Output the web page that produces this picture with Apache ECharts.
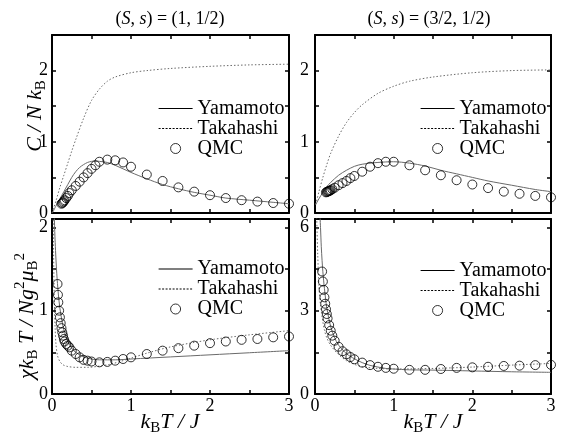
<!DOCTYPE html>
<html><head><meta charset="utf-8">
<script src="https://cdn.jsdelivr.net/npm/echarts@6/dist/echarts.min.js"></script>
<style>html,body{margin:0;padding:0;background:#fff}#c{width:564px;height:437px}</style>
</head><body><div id="c"></div>
<script>
// ---------- data ----------
const panelTitles = ['({i|S}, {i|s}) = (1, 1/2)', '({i|S}, {i|s}) = (3/2, 1/2)'];
const seriesNames = ['Yamamoto', 'Takahashi', 'QMC'];

// top-left: C/NkB, (S,s)=(1,1/2)
const tlYam = [[0.01,0.01],[0.05,0.1],[0.1,0.2],[0.15,0.3],[0.2,0.4],[0.25,0.5],[0.3,0.58],[0.35,0.64],[0.4,0.68],[0.45,0.71],[0.5,0.725],[0.55,0.73],[0.6,0.725],[0.7,0.71],[0.8,0.67],[1.0,0.57],[1.2,0.48],[1.4,0.40],[1.6,0.34],[1.8,0.29],[2.0,0.25],[2.2,0.21],[2.5,0.18],[2.8,0.15],[3.0,0.13]];
const tlTak = [[0,0],[0.05,0.17],[0.1,0.36],[0.15,0.53],[0.2,0.7],[0.25,0.87],[0.3,1.03],[0.4,1.33],[0.5,1.58],[0.6,1.74],[0.7,1.85],[0.8,1.91],[1.0,1.97],[1.2,2.0],[1.5,2.03],[2.0,2.06],[2.5,2.08],[3.0,2.09]];
const tlQmcT = [0.12,0.13,0.14,0.15,0.16,0.18,0.2,0.22,0.25,0.3,0.35,0.4,0.45,0.5,0.55,0.6,0.7,0.8,0.9,1.0,1.2,1.4,1.6,1.8,2.0,2.2,2.4,2.6,2.8,3.0];
const tlQmcV = [0.13,0.14,0.15,0.165,0.18,0.21,0.24,0.28,0.32,0.38,0.44,0.5,0.56,0.62,0.67,0.72,0.75,0.74,0.71,0.65,0.54,0.45,0.36,0.30,0.25,0.21,0.18,0.16,0.14,0.13];

// top-right: C/NkB, (S,s)=(3/2,1/2)
const trYam = [[0.01,0.12],[0.05,0.2],[0.1,0.29],[0.15,0.37],[0.2,0.43],[0.3,0.53],[0.4,0.6],[0.5,0.655],[0.6,0.685],[0.8,0.71],[1.0,0.72],[1.2,0.7],[1.4,0.66],[1.6,0.6],[1.8,0.55],[2.0,0.5],[2.2,0.45],[2.5,0.39],[2.8,0.33],[3.0,0.30]];
const trTak = [[0.01,0.12],[0.05,0.3],[0.1,0.5],[0.15,0.68],[0.2,0.84],[0.3,1.08],[0.4,1.27],[0.5,1.41],[0.6,1.52],[0.8,1.68],[1.0,1.78],[1.2,1.85],[1.5,1.91],[2.0,1.97],[2.5,2.0],[3.0,2.01]];
const trQmcT = [0.14,0.15,0.16,0.17,0.18,0.19,0.2,0.22,0.25,0.3,0.35,0.4,0.45,0.5,0.6,0.7,0.8,0.9,1.0,1.2,1.4,1.6,1.8,2.0,2.2,2.4,2.6,2.8,3.0];
const trQmcV = [0.29,0.295,0.3,0.305,0.31,0.315,0.32,0.335,0.355,0.39,0.42,0.45,0.49,0.52,0.58,0.65,0.7,0.72,0.72,0.67,0.6,0.53,0.46,0.40,0.35,0.30,0.27,0.24,0.22];

// bottom-left: chi kB T / N g^2 muB^2, (S,s)=(1,1/2)
const blYam = [[0.025,2.3],[0.03,2.1],[0.035,1.95],[0.04,1.82],[0.05,1.62],[0.06,1.45],[0.08,1.2],[0.1,1.03],[0.12,0.91],[0.15,0.77],[0.2,0.63],[0.25,0.55],[0.3,0.5],[0.4,0.445],[0.5,0.42],[0.6,0.41],[0.8,0.41],[1.0,0.42],[1.5,0.445],[2.0,0.47],[2.5,0.495],[3.0,0.52]];
const blTak = [[0.015,2.3],[0.02,1.7],[0.03,1.1],[0.04,0.78],[0.05,0.6],[0.07,0.46],[0.1,0.39],[0.14,0.35],[0.2,0.33],[0.3,0.32],[0.45,0.32],[0.6,0.335],[0.75,0.36],[1.0,0.43],[1.2,0.49],[1.5,0.565],[2.0,0.65],[2.5,0.71],[3.0,0.76]];
const blQmcT = [0.07,0.075,0.08,0.09,0.1,0.11,0.12,0.13,0.14,0.15,0.16,0.18,0.2,0.22,0.25,0.3,0.35,0.4,0.45,0.5,0.6,0.7,0.8,0.9,1.0,1.2,1.4,1.6,1.8,2.0,2.2,2.4,2.6,2.8,3.0];
const blQmcV = [1.32,1.19,1.1,1.0,0.92,0.85,0.79,0.74,0.7,0.66,0.63,0.6,0.58,0.56,0.52,0.48,0.44,0.41,0.4,0.39,0.38,0.385,0.4,0.42,0.44,0.48,0.52,0.55,0.58,0.61,0.63,0.65,0.66,0.68,0.69];

// bottom-right: chi kB T / N g^2 muB^2, (S,s)=(3/2,1/2)
const brYam = [[0.06,6.6],[0.07,6.0],[0.08,5.3],[0.09,4.8],[0.1,4.4],[0.12,3.8],[0.15,3.1],[0.2,2.42],[0.25,2.02],[0.3,1.76],[0.4,1.45],[0.5,1.27],[0.6,1.13],[0.7,1.03],[0.8,0.97],[0.9,0.92],[1.0,0.9],[1.2,0.87],[1.5,0.86],[2.0,0.83],[2.5,0.8],[3.0,0.78]];
const brTak = [[0.02,6.6],[0.025,6.0],[0.035,5.0],[0.05,3.9],[0.07,3.2],[0.1,2.6],[0.12,2.3],[0.15,2.02],[0.2,1.75],[0.3,1.42],[0.4,1.2],[0.5,1.07],[0.6,0.98],[0.8,0.92],[1.0,0.9],[1.5,0.92],[2.0,0.97],[2.5,1.04],[3.0,1.1]];
const brQmcT = [0.09,0.1,0.11,0.12,0.13,0.14,0.15,0.16,0.18,0.2,0.22,0.25,0.3,0.35,0.4,0.45,0.5,0.6,0.7,0.8,0.9,1.0,1.2,1.4,1.6,1.8,2.0,2.2,2.4,2.6,2.8,3.0];
const brQmcV = [4.41,4.05,3.75,3.48,3.25,3.05,2.88,2.72,2.48,2.28,2.1,1.92,1.70,1.54,1.43,1.33,1.25,1.13,1.04,0.98,0.94,0.91,0.87,0.87,0.9,0.94,0.96,0.98,1.01,1.02,1.04,1.05];

// axis ranges / tick labels
const xMax = 3, xStep = 0.5, xLabelEvery = 1;
const yMaxes = [2.5, 2.5, 2.1, 6.3];
const ySteps = [0.5, 0.5, 0.5, 1.5];
const yLabelEvery = [1, 1, 1, 3];

// ---------- layout ----------
const FONT = '"Liberation Serif", "Times New Roman", serif';
const grids = [
  {left: 52, top: 35, width: 237, height: 178},
  {left: 315, top: 35, width: 236, height: 178},
  {left: 52, top: 219, width: 237, height: 175},
  {left: 315, top: 219, width: 236, height: 175}
];
const legendPos = [[158, 98.5], [420, 98.5], [158, 259], [420, 260.5]];
const panels = [
  {yam: tlYam, tak: tlTak, qT: tlQmcT, qV: tlQmcV},
  {yam: trYam, tak: trTak, qT: trQmcT, qV: trQmcV},
  {yam: blYam, tak: blTak, qT: blQmcT, qV: blQmcV},
  {yam: brYam, tak: brTak, qT: brQmcT, qV: brQmcV}
];

const isMult = (v, m) => Math.abs(v / m - Math.round(v / m)) < 1e-6;
const xAxes = [], yAxes = [], series = [], legends = [];
const noSymbol = {color: 'rgba(0,0,0,0)', borderColor: 'rgba(0,0,0,0)', borderWidth: 0, opacity: 0};
grids.forEach((g, i) => {
  const bottomRow = i >= 2;
  ['bottom', 'top'].forEach((pos, k) => {
    xAxes.push({
      type: 'value', gridIndex: i, position: pos, min: 0, max: xMax, interval: xStep,
      axisLine: {show: true, onZero: false, lineStyle: {color: '#000', width: 2}},
      axisTick: {show: true, inside: true, length: 4, lineStyle: {color: '#000', width: 1.5}},
      splitLine: {show: false},
      axisLabel: {show: bottomRow && k === 0, margin: 3, color: '#000', fontFamily: FONT, fontSize: 18,
        formatter: v => isMult(v, xLabelEvery) ? String(v) : ''}
    });
  });
  ['left', 'right'].forEach((pos, k) => {
    yAxes.push({
      type: 'value', gridIndex: i, position: pos, min: 0, max: yMaxes[i], interval: ySteps[i],
      axisLine: {show: true, onZero: false, lineStyle: {color: '#000', width: 2}},
      axisTick: {show: true, inside: true, length: 4, lineStyle: {color: '#000', width: 1.5}},
      splitLine: {show: false},
      axisLabel: {show: k === 0, margin: i % 2 ? 6 : 4, color: '#000', fontFamily: FONT, fontSize: 18,
        showMaxLabel: false,
        formatter: v => isMult(v, yLabelEvery[i]) ? String(v) : ''}
    });
  });
  const p = panels[i];
  series.push({
    type: 'line', name: 'Yamamoto', xAxisIndex: 2 * i, yAxisIndex: 2 * i, data: p.yam,
    symbol: 'none', smooth: 0.3, clip: true, z: 2, color: '#6a6a6a',
    lineStyle: {color: '#6a6a6a', width: 1}
  });
  series.push({
    type: 'line', name: 'Takahashi', xAxisIndex: 2 * i, yAxisIndex: 2 * i, data: p.tak,
    symbol: 'none', smooth: 0.3, clip: true, z: 2, color: '#6a6a6a',
    lineStyle: {color: '#6a6a6a', width: 1, type: [1.5, 2]}
  });
  series.push({
    type: 'scatter', name: 'QMC', xAxisIndex: 2 * i, yAxisIndex: 2 * i,
    data: p.qT.map((t, j) => [t, p.qV[j]]),
    symbol: 'circle', symbolSize: 9, z: 3, color: '#000',
    itemStyle: {color: 'rgba(0,0,0,0)', borderColor: '#000', borderWidth: 1}
  });
  legends.push({
    left: legendPos[i][0], top: legendPos[i][1], orient: 'vertical', padding: 0,
    itemWidth: 34, itemHeight: 10, itemGap: 0, selectedMode: false,
    textStyle: {fontFamily: FONT, fontSize: 20, color: '#000', lineHeight: 19},
    data: [
      {name: 'Yamamoto', itemStyle: noSymbol, lineStyle: {color: '#000', width: 1.2, type: 'solid'}},
      {name: 'Takahashi', itemStyle: noSymbol, lineStyle: {color: '#000', width: 1.2, type: [2, 1.5]}},
      {name: 'QMC', icon: 'circle', itemStyle: {color: 'rgba(0,0,0,0)', borderColor: '#000', borderWidth: 1}}
    ]
  });
});

const rich = {
  i: {fontFamily: FONT, fontStyle: 'italic', fontSize: 22, lineHeight: 28, verticalAlign: 'middle'},
  r: {fontFamily: FONT, fontSize: 22, lineHeight: 28, verticalAlign: 'middle'},
  sub: {fontFamily: FONT, fontSize: 15, lineHeight: 14, verticalAlign: 'bottom'},
  sup: {fontFamily: FONT, fontSize: 15, lineHeight: 18, verticalAlign: 'top'}
};
const titleRich = {i: {fontFamily: FONT, fontStyle: 'italic', fontSize: 18}};

const graphic = [
  {type: 'text', x: 170, y: 19, style: {text: panelTitles[0], rich: titleRich, fontFamily: FONT, fontSize: 18, fill: '#000', align: 'center', verticalAlign: 'middle'}},
  {type: 'text', x: 429, y: 19, style: {text: panelTitles[1], rich: titleRich, fontFamily: FONT, fontSize: 18, fill: '#000', align: 'center', verticalAlign: 'middle'}},
  {type: 'text', x: 35, y: 116, rotation: Math.PI / 2,
    style: {text: '{i|C / N k}{sub|B}', rich: rich, fill: '#000', align: 'center', verticalAlign: 'middle'}},
  {type: 'text', x: 27, y: 316, rotation: Math.PI / 2,
    style: {text: '{i|χk}{sub|B}{i| T / Ng}{sup|2}{i|μ}{sub|B}{sup|2}', rich: rich, fill: '#000', align: 'center', verticalAlign: 'middle'}},
  {type: 'text', x: 170, y: 422,
    style: {text: '{i|k}{sub|B}{i|T / J}', rich: rich, fill: '#000', align: 'center', verticalAlign: 'middle'}},
  {type: 'text', x: 433, y: 422,
    style: {text: '{i|k}{sub|B}{i|T / J}', rich: rich, fill: '#000', align: 'center', verticalAlign: 'middle'}}
];

const chart = echarts.init(document.getElementById('c'), null, {renderer: 'canvas'});
chart.setOption({
  backgroundColor: '#fff',
  animation: false,
  grid: grids,
  xAxis: xAxes,
  yAxis: yAxes,
  legend: legends,
  series: series,
  graphic: graphic
});
</script>
</body></html>
